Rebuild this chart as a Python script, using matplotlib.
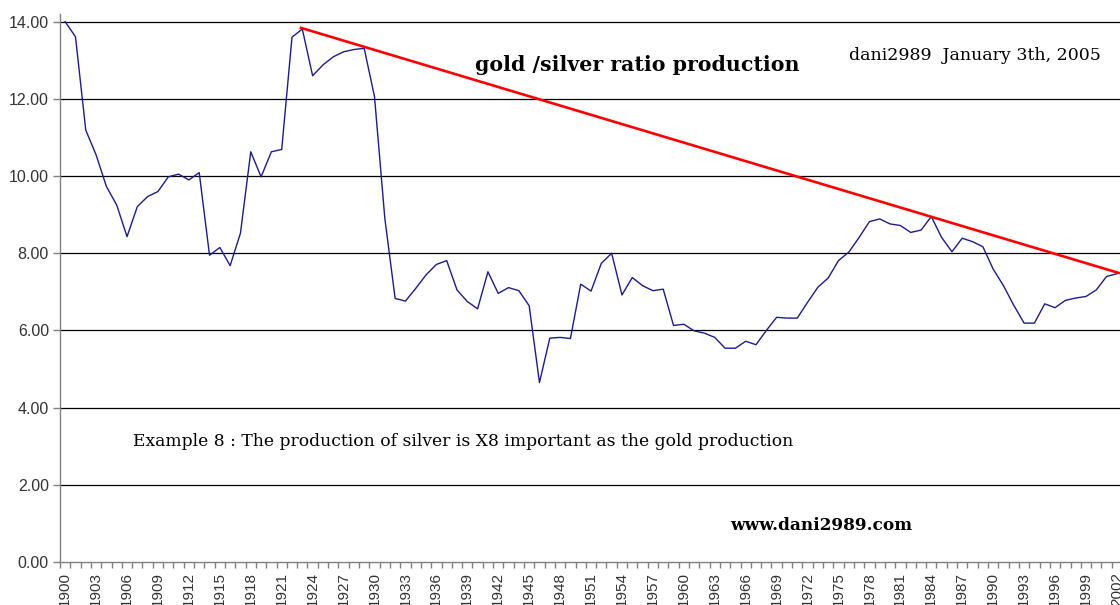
import numpy as np
import matplotlib
matplotlib.use("Agg")
import matplotlib.pyplot as plt
from matplotlib.ticker import FixedLocator, FixedFormatter

years = list(range(1900, 2003))
ratio = [
    14.00, 13.61, 11.19, 10.55, 9.73, 9.25, 8.43, 9.21, 9.47, 9.60,
    9.98, 10.05, 9.90, 10.09, 7.95, 8.15, 7.68, 8.52, 10.63, 9.98,
    10.63, 10.69, 13.60, 13.81, 12.60, 12.88, 13.09, 13.22, 13.28, 13.31,
    12.06, 8.91, 6.83, 6.76, 7.09, 7.44, 7.71, 7.81, 7.05, 6.75,
    6.56, 7.52, 6.96, 7.11, 7.03, 6.64, 4.65, 5.80, 5.82, 5.79,
    7.20, 7.02, 7.74, 8.00, 6.92, 7.37, 7.16, 7.03, 7.07, 6.13,
    6.16, 5.99, 5.93, 5.82, 5.54, 5.54, 5.72, 5.63, 6.00, 6.34,
    6.32, 6.32, 6.73, 7.12, 7.36, 7.81, 8.03, 8.41, 8.82, 8.89,
    8.76, 8.72, 8.54, 8.60, 8.95, 8.41, 8.04, 8.39, 8.30, 8.17,
    7.59, 7.16, 6.65, 6.19, 6.19, 6.69, 6.59, 6.78, 6.84, 6.88,
    7.05, 7.40, 7.47,
]
trend_x = [1922.75, 2002.3]
trend_y = [13.85, 7.48]
label_years = list(range(1900, 2003, 3))
y_ticks = [0, 2, 4, 6, 8, 10, 12, 14]

W, H = 1120, 605
fig = plt.figure(figsize=(W / 100, H / 100), dpi=100)
ax = fig.add_axes([60 / W, 1 - 562 / H, 1 - 60 / W, (562 - 14) / H])

for v in y_ticks[1:]:
    ax.axhline(v, color="black", lw=0.9, zorder=1)

ax.plot(years, ratio, color="#1c1c8a", lw=1.0, zorder=3)
ax.plot(trend_x, trend_y, color="#ff0000", lw=1.9, zorder=4, solid_capstyle="butt")

ax.set_xlim(1899.5, 2002.3)
ax.set_ylim(0, 14.2)

for s in ["top", "right"]:
    ax.spines[s].set_visible(False)
for s in ["left", "bottom"]:
    ax.spines[s].set_color("#808080")
    ax.spines[s].set_linewidth(1.0)

ax.xaxis.set_major_locator(FixedLocator(label_years))
ax.xaxis.set_major_formatter(FixedFormatter([str(y) for y in label_years]))
ax.xaxis.set_minor_locator(FixedLocator([y - 0.5 for y in years] + [2002.5]))
ax.tick_params(axis="x", which="major", length=0, pad=7, labelrotation=90,
               labelsize=11, labelcolor="#333333")
ax.tick_params(axis="x", which="minor", length=4, width=1.0, color="#808080", direction="out")

ax.set_yticks(y_ticks)
ax.set_yticklabels([f"{v:.2f}" for v in y_ticks])
ax.tick_params(axis="y", which="major", length=5, width=1.0, color="#808080",
               pad=3, labelsize=11.5, labelcolor="#333333")
for lab in ax.get_xticklabels() + ax.get_yticklabels():
    lab.set_family("Liberation Sans")

fig.text(475 / W, 1 - 65 / H, "gold /silver ratio production", family="DejaVu Serif",
         weight="bold", fontsize=14.8, ha="left", va="center")
fig.text(849 / W, 1 - 55 / H, "dani2989  January 3th, 2005", family="DejaVu Serif",
         fontsize=12.5, ha="left", va="center")
fig.text(133 / W, 1 - 441 / H,
         "Example 8 : The production of silver is X8 important as the gold production",
         family="DejaVu Serif", fontsize=12.3, ha="left", va="center")
fig.text(730 / W, 1 - 526 / H, "www.dani2989.com", family="DejaVu Serif",
         weight="bold", fontsize=12.2, ha="left", va="center")

fig.savefig("out.png", dpi=100)
